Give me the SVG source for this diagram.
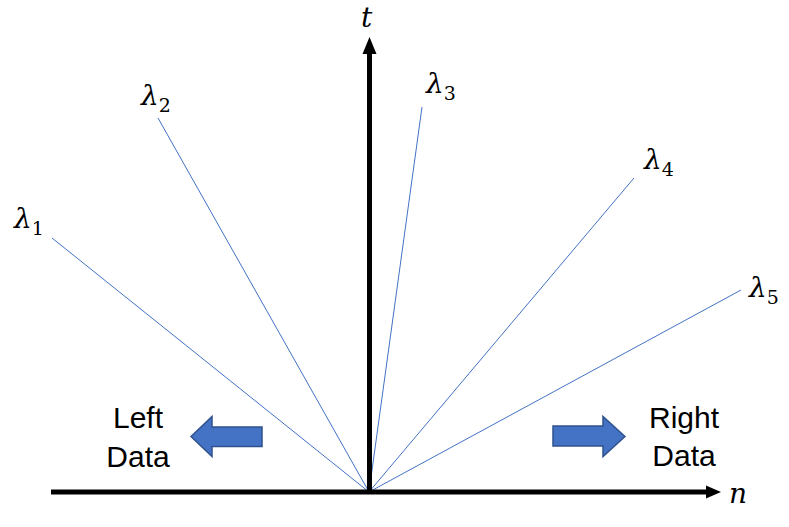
<svg xmlns="http://www.w3.org/2000/svg" width="789" height="527" viewBox="0 0 789 527">
  <style>
    .ray { stroke: #4472C4; stroke-width: 1; fill: none; }
    .axis { stroke: #000; stroke-width: 5; fill: none; }
    .math { font-family: "DejaVu Serif", "Liberation Serif", serif; font-style: italic; font-size: 28px; fill: #000; }
    .sub { font-family: "DejaVu Serif", "Liberation Serif", serif; font-style: normal; font-size: 19px; fill: #000; }
    .lbl { font-family: "Liberation Sans", Arial, sans-serif; font-size: 30px; fill: #000; text-anchor: middle; }
    .block { fill: #4472C4; stroke: #2F528F; stroke-width: 1.5; }
  </style>
  <rect width="789" height="527" fill="#fff"/>
  <g id="connectors">
    <line class="ray" x1="369" y1="492" x2="52" y2="238"/>
    <line class="ray" x1="369" y1="492" x2="158" y2="118"/>
    <line class="ray" x1="369" y1="492" x2="422" y2="107"/>
    <line class="ray" x1="369" y1="492" x2="634" y2="178"/>
    <line class="ray" x1="369" y1="492" x2="741" y2="290"/>
  </g>
  <g id="axis-n">
    <line class="axis" x1="51" y1="492" x2="708" y2="492"/>
    <polygon points="706,485.5 721,492 706,498.5" fill="#000"/>
    <text class="math" x="729" y="503">n</text>
  </g>
  <g id="axis-t">
    <line class="axis" x1="369.5" y1="494" x2="369.5" y2="52"/>
    <polygon points="362.5,54 369.5,37 376.5,54" fill="#000"/>
    <text class="math" x="361" y="27">t</text>
  </g>
  <g id="lambda1"><text class="math" x="14" y="228">λ<tspan class="sub" dy="7">1</tspan></text></g>
  <g id="lambda2"><text class="math" x="141" y="105">λ<tspan class="sub" dy="7">2</tspan></text></g>
  <g id="lambda3"><text class="math" x="426" y="93">λ<tspan class="sub" dy="7">3</tspan></text></g>
  <g id="lambda4"><text class="math" x="644" y="169">λ<tspan class="sub" dy="7">4</tspan></text></g>
  <g id="lambda5"><text class="math" x="749" y="297">λ<tspan class="sub" dy="7">5</tspan></text></g>
  <g id="left-data">
    <text class="lbl" x="138" y="428">Left</text>
    <text class="lbl" x="138" y="467">Data</text>
    <polygon class="block" points="191,436.5 212,416.5 212,427 262,427 262,446.5 212,446.5 212,456.5"/>
  </g>
  <g id="right-data">
    <text class="lbl" x="684" y="428">Right</text>
    <text class="lbl" x="684" y="466">Data</text>
    <polygon class="block" points="625,436.5 603,416.5 603,426 553,426 553,446 603,446 603,456.5"/>
  </g>
</svg>
